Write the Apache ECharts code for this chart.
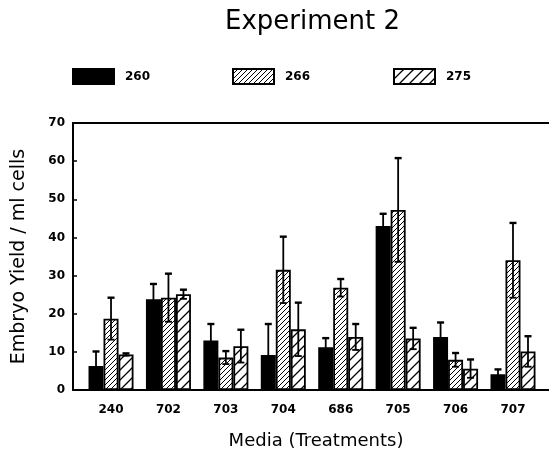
<!DOCTYPE html>
<html><head><meta charset="utf-8">
<script src="https://cdn.jsdelivr.net/npm/echarts@6/dist/echarts.min.js"></script>
<style>html,body{margin:0;padding:0;background:#fff}#c{width:549px;height:455px}</style>
</head><body><div id="c"></div>
<script>
const categories = ['240','702','703','704','686','705','706','707'];
const seriesNames = ['260','266','275'];
const values260 = [6.3, 23.8, 13.0, 9.2, 11.2, 43.0, 13.9, 4.1];
const err260    = [3.8, 4.0, 4.3, 8.1, 2.4, 3.2, 3.8, 1.3];
const values266 = [18.7, 24.2, 8.5, 31.5, 26.8, 47.2, 7.9, 34.0];
const err266    = [5.5, 6.3, 1.7, 8.7, 2.3, 13.6, 1.8, 9.8];
const values275 = [9.3, 25.1, 11.5, 15.9, 13.9, 13.5, 5.6, 10.1];
const err275    = [0.3, 1.2, 4.3, 7.0, 3.4, 2.8, 2.4, 4.0];
const yMin = 0, yMax = 70, yStep = 10;

const FONT = '"DejaVu Sans", "Liberation Sans", Arial, sans-serif';
const BAR_W = 15;

function hatch(size, lw) {
  const c = document.createElement('canvas');
  c.width = size; c.height = size;
  const g = c.getContext('2d');
  g.fillStyle = '#fff'; g.fillRect(0, 0, size, size);
  g.strokeStyle = '#000'; g.lineWidth = lw; g.lineCap = 'square';
  g.beginPath();
  g.moveTo(-1, 1); g.lineTo(1, -1);
  g.moveTo(0, size); g.lineTo(size, 0);
  g.moveTo(size - 1, size + 1); g.lineTo(size + 1, size - 1);
  g.stroke();
  return c;
}
const dense = hatch(5, 1);
const sparse = hatch(10, 1.3);

const sets = [
  {name: seriesNames[0], vals: values260, errs: err260, color: '#000'},
  {name: seriesNames[1], vals: values266, errs: err266, color: {image: dense, repeat: 'repeat'}},
  {name: seriesNames[2], vals: values275, errs: err275, color: {image: sparse, repeat: 'repeat'}}
];

const series = [];
sets.forEach((s, k) => {
  series.push({
    name: s.name, type: 'bar', barWidth: BAR_W, barGap: '0%',
    data: s.vals.map((v, i) => [i, v]),
    itemStyle: {color: s.color, borderColor: '#000', borderWidth: 1.8},
    z: 2
  });
});
sets.forEach((s, k) => {
  const off = (k - 1) * BAR_W;
  series.push({
    type: 'custom', z: 5, silent: true,
    encode: {x: 0, y: [1, 2]},
    data: s.vals.map((v, i) => [i, v - s.errs[i], v + s.errs[i]]),
    renderItem: function (params, api) {
      const x = api.value(0);
      const top = api.coord([x, api.value(2)]);
      const bot = api.coord([x, api.value(1)]);
      const cx = top[0] + off;
      const cap = 3.5;
      const st = {stroke: '#000', lineWidth: 1.8};
      return {type: 'group', children: [
        {type: 'line', shape: {x1: cx, y1: top[1], x2: cx, y2: bot[1]}, style: st},
        {type: 'line', shape: {x1: cx - cap, y1: top[1], x2: cx + cap, y2: top[1]}, style: {stroke: '#000', lineWidth: 2.4}},
        {type: 'line', shape: {x1: cx - cap, y1: bot[1], x2: cx + cap, y2: bot[1]}, style: st}
      ]};
    }
  });
});

function legendFor(name, left) {
  return {
    data: [name], left: left, top: 68, padding: 0, icon: 'rect',
    itemWidth: 41, itemHeight: 15, itemGap: 0,
    textStyle: {fontFamily: FONT, fontWeight: 'bold', fontSize: 12, color: '#000', padding: [0, 0, 0, 6]},
    selectedMode: false
  };
}

const chart = echarts.init(document.getElementById('c'), null, {renderer: 'canvas'});
chart.setOption({
  animation: false,
  backgroundColor: '#fff',
  title: {text: 'Experiment 2', left: 225, top: 9, padding: 0,
    textStyle: {fontFamily: FONT, fontSize: 26, fontWeight: 'normal', color: '#000'}},
  legend: [legendFor('260', 72), legendFor('266', 232), legendFor('275', 393)],
  grid: {left: 73, right: 0, top: 123, bottom: 59},
  xAxis: [{
    type: 'value', min: -0.662, max: 7.627,
    axisLine: {show: true, onZero: false, lineStyle: {color: '#000', width: 2}},
    axisTick: {show: false},
    splitLine: {show: false},
    axisLabel: {customValues: categories.map((c, i) => i), formatter: v => categories[Math.round(v)] || '',
      fontFamily: FONT, fontWeight: 'bold', fontSize: 12, color: '#000', margin: 14},
    name: 'Media (Treatments)', nameLocation: 'middle', nameGap: 42,
    nameTextStyle: {fontFamily: FONT, fontSize: 18, color: '#000', padding: [0, 0, 0, 10]}
  }, {
    type: 'value', position: 'top', min: -0.662, max: 7.627,
    axisLine: {show: true, onZero: false, lineStyle: {color: '#000', width: 2}},
    axisTick: {show: false}, axisLabel: {show: false}, splitLine: {show: false}
  }],
  yAxis: {
    type: 'value', min: yMin, max: yMax, interval: yStep,
    axisLine: {show: true, onZero: false, lineStyle: {color: '#000', width: 2}},
    axisTick: {show: true, inside: true, length: 4, lineStyle: {color: '#000', width: 1.5}},
    splitLine: {show: false},
    axisLabel: {fontFamily: FONT, fontWeight: 'bold', fontSize: 12, color: '#000', margin: 8},
    name: 'Embryo Yield / ml cells', nameLocation: 'middle', nameGap: 44,
    nameTextStyle: {fontFamily: FONT, fontSize: 19, color: '#000'}
  },
  series: series
});
</script>
</body></html>
